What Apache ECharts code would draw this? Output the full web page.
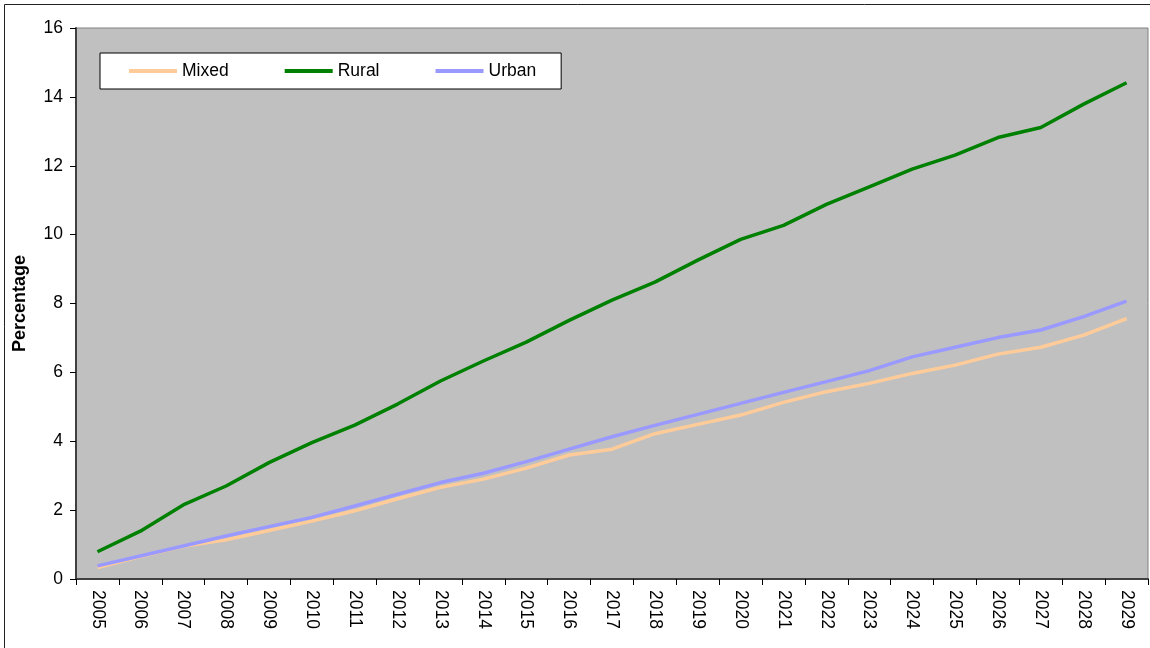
<!DOCTYPE html>
<html>
<head>
<meta charset="utf-8">
<script src="https://cdn.jsdelivr.net/npm/echarts@6/dist/echarts.min.js"></script>
<style>
html,body{margin:0;padding:0;background:#fff;}
#main{width:1150px;height:648px;}
</style>
</head>
<body>
<div id="main"></div>
<script>
const years = ['2005','2006','2007','2008','2009','2010','2011','2012','2013','2014','2015','2016','2017','2018','2019','2020','2021','2022','2023','2024','2025','2026','2027','2028','2029'];
const mixed = [0.33,0.65,0.95,1.14,1.41,1.68,1.98,2.33,2.66,2.90,3.22,3.60,3.77,4.22,4.49,4.76,5.13,5.44,5.68,5.97,6.21,6.53,6.73,7.08,7.56];
const rural = [0.79,1.39,2.15,2.70,3.38,3.96,4.47,5.08,5.75,6.33,6.88,7.51,8.10,8.62,9.26,9.86,10.27,10.88,11.39,11.90,12.31,12.82,13.11,13.79,14.41];
const urban = [0.38,0.67,0.96,1.25,1.52,1.79,2.12,2.46,2.80,3.07,3.41,3.77,4.13,4.46,4.78,5.10,5.42,5.73,6.05,6.45,6.73,7.01,7.23,7.62,8.07];
const yTicks = {min:0, max:16, interval:2};

const chart = echarts.init(document.getElementById('main'), null, {renderer:'canvas'});
const font = 'Liberation Sans, Arial, sans-serif';
chart.setOption({
  animation:false,
  backgroundColor:'#ffffff',
  graphic:[{type:'rect', z:-10, silent:true, shape:{x:4.5,y:4.5,width:1300,height:800}, style:{fill:'none', stroke:'#222', lineWidth:1}}],
  grid:{left:76, top:28, right:2, bottom:69, show:true, backgroundColor:'#C0C0C0', borderColor:'#808080', borderWidth:1, outerBoundsMode:'none', containLabel:false},
  legend:{
    left:100, top:53, orient:'horizontal',
    backgroundColor:'#ffffff', borderColor:'#000', borderWidth:1,
    padding:[9,25,9,29], itemGap:56, itemWidth:48, itemHeight:4, icon:'rect',
    textStyle:{fontFamily:font, fontSize:17.5, color:'#000'},
    data:['Mixed','Rural','Urban']
  },
  xAxis:{
    type:'category', data:years, boundaryGap:true,
    axisLine:{lineStyle:{color:'#404040', width:2}},
    axisTick:{show:true, length:6, lineStyle:{color:'#000'}},
    axisLabel:{rotate:-90, margin:11, fontFamily:font, fontSize:17.5, color:'#000', interval:0},
    splitLine:{show:false}
  },
  yAxis:{
    type:'value', min:yTicks.min, max:yTicks.max, interval:yTicks.interval,
    name:'Percentage', nameLocation:'middle', nameGap:47,
    nameTextStyle:{fontFamily:font, fontSize:18, fontWeight:'bold', color:'#000'},
    axisLine:{show:true, lineStyle:{color:'#404040', width:2}},
    axisTick:{show:true, length:6, lineStyle:{color:'#000'}},
    axisLabel:{margin:13, fontFamily:font, fontSize:17.5, color:'#000'},
    splitLine:{show:false}
  },
  series:[
    {name:'Mixed', type:'line', data:mixed, symbol:'none', lineStyle:{color:'#FFCC99', width:3.5}, itemStyle:{color:'#FFCC99'}},
    {name:'Rural', type:'line', data:rural, symbol:'none', lineStyle:{color:'#008000', width:3.5}, itemStyle:{color:'#008000'}},
    {name:'Urban', type:'line', data:urban, symbol:'none', lineStyle:{color:'#9999FF', width:3.5}, itemStyle:{color:'#9999FF'}}
  ]
});
</script>
</body>
</html>
